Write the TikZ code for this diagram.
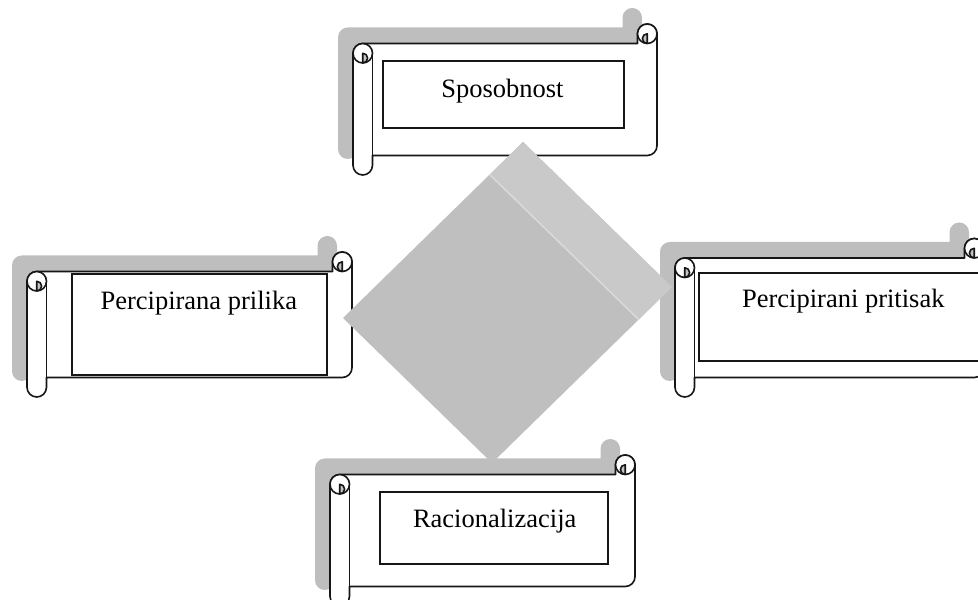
\documentclass[tikz,border=0pt]{standalone}
\usepackage{fontspec}
\setmainfont{Liberation Serif}
\definecolor{lineC}{HTML}{161616}
\definecolor{shadowC}{HTML}{BEBEBE}
\definecolor{curlC}{HTML}{C4C4C4}
\definecolor{diaMain}{HTML}{BFBFBF}
\definecolor{diaStrip}{HTML}{C9C9C9}
\definecolor{diaSep}{HTML}{DADADA}
\tikzset{
  scrollline/.style={draw=lineC, line width=1.6pt, line join=round},
  innerbox/.style={draw=lineC, line width=1.3pt},
  labeltext/.style={font=\fontsize{26.5}{30}\selectfont, text=black, anchor=base, inner sep=0pt},
}
\def\ch{19.5}
\def\hh{9.75}
\def\qq{4.875}
% outline of a horizontal scroll: #1 = left x, #2 = right x, #3 = top y, #4 = bottom y (y upward)
\newcommand{\scrollpath}[4]{(#1,#3-1.5*\ch) arc[start angle=180,end angle=90,radius=\hh] -- (#2-\ch,#3-\ch) -- (#2-\ch,#3-\hh) arc[start angle=180,end angle=0,radius=\hh] -- (#2,#4+1.5*\ch) arc[start angle=0,end angle=-90,radius=\hh] -- (#1+\ch,#4+\ch) -- (#1+\ch,#4+\hh) arc[start angle=0,end angle=-180,radius=\hh] -- cycle}
\newcommand{\drawscroll}[4]{%
  \fill[shadowC, shift={(-15,16)}] \scrollpath{#1}{#2}{#3}{#4};
  \draw[scrollline, fill=white] \scrollpath{#1}{#2}{#3}{#4};
  % left roll
  \draw[scrollline, fill=white] (#1+\hh,#3-1.5*\ch) circle[radius=\hh];
  \fill[curlC] (#1+\hh,#3-2*\ch) -- (#1+\hh,#3-1.5*\ch) arc[start angle=90,end angle=-90,radius=\qq] -- cycle;
  \draw[scrollline] (#1+\hh,#3-2*\ch) -- (#1+\hh,#3-1.5*\ch) arc[start angle=90,end angle=-90,radius=\qq];
  \draw[scrollline] (#1+\ch,#3-1.5*\ch) -- (#1+\ch,#4+\ch);
  % right curl
  \draw[scrollline, fill=white] (#2-\hh,#3-\hh) circle[radius=\hh];
  \fill[curlC] (#2-\hh,#3-\ch) -- (#2-\hh,#3-\hh) arc[start angle=90,end angle=270,radius=\qq] -- cycle;
  \draw[scrollline] (#2-\hh,#3-\ch) -- (#2-\hh,#3-\hh) arc[start angle=90,end angle=270,radius=\qq];
}
\begin{document}
\begin{tikzpicture}[x=1pt,y=1pt]
\useasboundingbox (0,0) rectangle (978,600);
\clip (0,0) rectangle (978,600);

% top scroll
\drawscroll{353}{657}{576}{425}
\draw[innerbox] (383,539) rectangle (624,472);
\node[labeltext] (sposobnost) at (502.5,502.5) {Sposobnost};

% left scroll
\drawscroll{27}{352}{348}{203}
\draw[innerbox] (72,326) rectangle (327,225);
\node[labeltext] (prilika) at (198.8,290) {Percipirana prilika};

% right scroll
\drawscroll{675}{984}{361.5}{203}
\draw[innerbox] (699,327) rectangle (990,239);
\node[labeltext] (pritisak) at (843.3,292) {Percipirani pritisak};

% bottom scroll
\drawscroll{330}{635}{145}{-6}
\draw[innerbox] (380,108) rectangle (608,36);
\node[labeltext] (racionalizacija) at (494.7,72.7) {Racionalizacija};

% central diamond
\fill[diaMain] (523,458) -- (672,313) -- (492,137) -- (343,282) -- cycle;
\fill[diaStrip] (523,458) -- (672,313) -- (638.7,280.4) -- (489.7,425.4) -- cycle;
\draw[diaSep, line width=1.5pt] (489.7,425.4) -- (638.7,280.4);
\end{tikzpicture}
\end{document}
